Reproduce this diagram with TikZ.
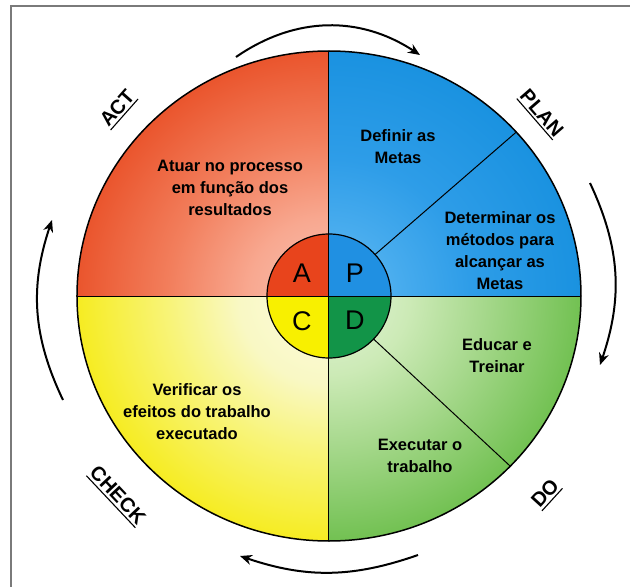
\documentclass[tikz,border=0pt]{standalone}
\usepackage{fontspec}
\setmainfont{Liberation Sans}
\usetikzlibrary{arrows.meta}
\definecolor{rA}{HTML}{FAC2B4}
\definecolor{rB}{HTML}{F8A890}
\definecolor{rC}{HTML}{F27E5C}
\definecolor{rD}{HTML}{EA552D}
\definecolor{bA}{HTML}{6CBEF5}
\definecolor{bB}{HTML}{48ACEE}
\definecolor{bC}{HTML}{2E9DE8}
\definecolor{bD}{HTML}{1A92E0}
\definecolor{gA}{HTML}{E4F4DA}
\definecolor{gB}{HTML}{CCEAB6}
\definecolor{gC}{HTML}{A8D98E}
\definecolor{gD}{HTML}{72C152}
\definecolor{yA}{HTML}{FCFCE2}
\definecolor{yB}{HTML}{F9F8C4}
\definecolor{yC}{HTML}{F8F478}
\definecolor{yD}{HTML}{F6EC22}
\definecolor{pA}{HTML}{E8441C}
\definecolor{pP}{HTML}{2090E2}
\definecolor{pC}{HTML}{F8F000}
\definecolor{pD}{HTML}{129448}
\definecolor{framecol}{HTML}{7A7A7A}
\pgfdeclareradialshading{shRed}{\pgfpoint{0bp}{0bp}}{color(0bp)=(rA); color(8bp)=(rB); color(16bp)=(rC); color(25bp)=(rD); color(50bp)=(rD)}
\pgfdeclareradialshading{shBlue}{\pgfpoint{0bp}{0bp}}{color(0bp)=(bA); color(7bp)=(bB); color(14bp)=(bC); color(25bp)=(bD); color(50bp)=(bD)}
\pgfdeclareradialshading{shGreen}{\pgfpoint{0bp}{0bp}}{color(0bp)=(gA); color(8bp)=(gB); color(15bp)=(gC); color(25bp)=(gD); color(50bp)=(gD)}
\pgfdeclareradialshading{shYellow}{\pgfpoint{0bp}{0bp}}{color(0bp)=(yA); color(9bp)=(yB); color(16bp)=(yC); color(25bp)=(yD); color(50bp)=(yD)}
\begin{document}
\begin{tikzpicture}[x=1pt,y=1pt,
  divline/.style={black, line width=1pt},
  qtext/.style={align=center, font=\fontsize{16.5}{22}\selectfont\bfseries, inner sep=0pt},
  letter/.style={font=\fontsize{27}{27}\selectfont, inner sep=0pt},
  lab/.style={font=\fontsize{20}{20}\selectfont\bfseries, inner xsep=0pt, inner ysep=2.5pt},
  uline/.style={black, line width=1.1pt},
  arr/.style={black, line width=2pt, -{Stealth[length=12pt,width=10pt]}}]
\def\RX{252}\def\RY{245}
\useasboundingbox (-329,-291) rectangle (301,296);
\clip (-329,-291) rectangle (301,296);
\fill[white] (-329,-291) rectangle (301,296);
\draw[framecol, line width=1.6pt] (-318,-320) rectangle (330,290);
% quadrants
\begin{scope}
\clip (0,0) -- (\RX,0) arc[start angle=0,end angle=90,x radius=\RX,y radius=\RY] -- cycle;
\shade[shading=shBlue] (-\RX,-\RY) rectangle (\RX,\RY);
\end{scope}
\begin{scope}
\clip (0,0) -- (0,\RY) arc[start angle=90,end angle=180,x radius=\RX,y radius=\RY] -- cycle;
\shade[shading=shRed] (-\RX,-\RY) rectangle (\RX,\RY);
\end{scope}
\begin{scope}
\clip (0,0) -- (-\RX,0) arc[start angle=180,end angle=270,x radius=\RX,y radius=\RY] -- cycle;
\shade[shading=shYellow] (-\RX,-\RY) rectangle (\RX,\RY);
\end{scope}
\begin{scope}
\clip (0,0) -- (0,-\RY) arc[start angle=270,end angle=360,x radius=\RX,y radius=\RY] -- cycle;
\shade[shading=shGreen] (-\RX,-\RY) rectangle (\RX,\RY);
\end{scope}
% inner circle fills
\fill[pP] (0,0) -- (62,0) arc[start angle=0,end angle=90,radius=62] -- cycle;
\fill[pA] (0,0) -- (0,62) arc[start angle=90,end angle=180,radius=62] -- cycle;
\fill[pC] (0,0) -- (-62,0) arc[start angle=180,end angle=270,radius=62] -- cycle;
\fill[pD] (0,0) -- (0,-62) arc[start angle=270,end angle=360,radius=62] -- cycle;
% dividers
\coordinate (hl) at (-\RX,0); \coordinate (hr) at (\RX,0);
\coordinate (vt) at (0,\RY); \coordinate (vb) at (0,-\RY);
\draw[divline] (hl) -- (hr);
\draw[divline] (vt) -- (vb);
\coordinate (s1a) at (42:62); \coordinate (s1b) at ({\RX*cos(42)},{\RY*sin(42)});
\coordinate (s2a) at (-44:62); \coordinate (s2b) at ({\RX*cos(-44)},{\RY*sin(-44)});
\draw[divline] (s1a) -- (s1b);
\draw[divline] (s2a) -- (s2b);
\draw[black, line width=1.5pt] (0,0) ellipse[x radius=\RX, y radius=\RY];
\draw[black, line width=1.2pt] (0,0) circle (62);
% letters
\node[letter] (la) at (-27,23) {A};
\node[letter] (lp) at (26,23) {P};
\node[letter] (lc) at (-27,-25) {C};
\node[letter] (ld) at (26,-24) {D};
% texts
\node[qtext] (t1) at (-99,108) {Atuar no processo\\em função dos\\resultados};
\node[qtext] (t2) at (69,149) {Definir as\\Metas};
\node[qtext] (t3) at (171,45) {Determinar os\\métodos para\\alcançar as\\Metas};
\node[qtext] (t4) at (168,-60) {Educar e\\Treinar};
\node[qtext] (t5) at (91,-160) {Executar o\\trabalho};
\node[qtext] (t6) at (-132,-116) {Verificar os\\efeitos do trabalho\\executado};
% outer labels
\node[lab, rotate=48.5] (act) at (-212,188) {ACT};
\node[lab, rotate=-49] (plan) at (213,183) {PLAN};
\node[lab, rotate=47.6] (do) at (216,-197) {DO};
\node[lab, rotate=-46.7] (check) at (-211,-199) {CHECK};
\draw[uline] (act.south west) -- (act.south east);
\draw[uline] (plan.south west) -- (plan.south east);
\draw[uline] (do.south west) -- (do.south east);
\draw[uline] (check.south west) -- (check.south east);
% arrows
\coordinate (at1) at (-93,239); \coordinate (at2) at (91,241);
\draw[arr] (at1) to[bend left=34] (at2);
\coordinate (ar1) at (261,113); \coordinate (ar2) at (271,-69);
\draw[arr] (ar1) to[bend left=22] (ar2);
\coordinate (ab1) at (89,-259); \coordinate (ab2) at (-89,-260);
\draw[arr] (ab1) to[bend left=19] (ab2);
\coordinate (al1) at (-266,-104); \coordinate (al2) at (-277,76);
\draw[arr] (al1) to[bend left=22] (al2);
\end{tikzpicture}
\end{document}
